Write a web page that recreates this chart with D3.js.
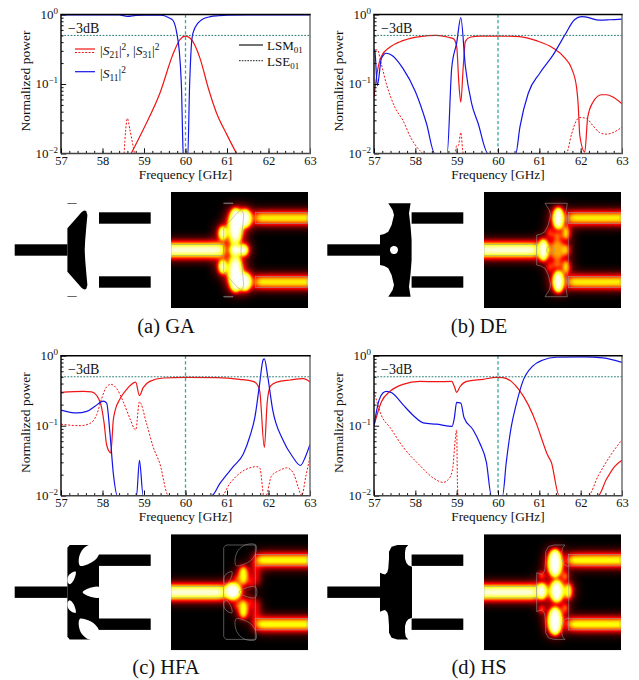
<!DOCTYPE html>
<html>
<head>
<meta charset="utf-8">
<script src="https://cdnjs.cloudflare.com/ajax/libs/d3/7.8.5/d3.min.js"></script>
<style>
    html, body { margin: 0; padding: 0; background: #fff; }
    svg { display: block; }
    text { font-family: "Liberation Serif", serif; fill: #111; }
</style>
</head>
<body>
<div id="chart"></div>
<script>
// [frequency GHz, normalized power]
const gaS21 = [[58.69,0.01],[58.98,0.022],[59.38,0.073],[59.71,0.28],[59.87,0.44],[60,0.49],[60.15,0.43],[60.35,0.234],[60.55,0.087],[60.75,0.038],[60.99,0.019],[61.23,0.01]];
const gaS31 = [[58.52,0.01],[58.6,0.032],[58.66,0.022],[58.77,0.01]];
const gaS11 = [[57,0.99],[58.4,0.99],[58.6,0.94],[58.8,0.97],[59,0.98],[59.4,0.98],[59.6,0.9],[59.7,0.82],[59.79,0.54],[59.85,0.3],[59.9,0.1],[59.95,0.009],[60.05,0.008],[60.1,0.1],[60.14,0.35],[60.18,0.54],[60.3,0.75],[60.4,0.85],[60.6,0.93],[60.8,0.96],[61,0.98],[61.5,0.99],[63,0.99]];

const deS21 = [[57,0.065],[57.08,0.15],[57.18,0.25],[57.39,0.34],[57.7,0.42],[58.11,0.48],[58.51,0.5],[58.8,0.47],[58.92,0.45],[59,0.35],[59.05,0.11],[59.1,0.055],[59.16,0.18],[59.21,0.41],[59.32,0.47],[59.56,0.49],[60,0.49],[60.52,0.48],[60.93,0.42],[61.33,0.33],[61.62,0.235],[61.78,0.168],[61.9,0.09],[61.94,0.05],[61.98,0.018],[62.1,0.0105],[62.17,0.033],[62.3,0.055],[62.5,0.07],[62.62,0.07],[62.78,0.065],[63,0.052]];
const deS31 = [[57,0.28],[57.02,0.31],[57.08,0.31],[57.18,0.19],[57.3,0.1],[57.5,0.047],[57.7,0.03],[57.9,0.0165],[58.11,0.011],[58.19,0.01],[58.96,0.01],[59,0.013],[59.04,0.013],[59.1,0.02],[59.16,0.01],[61.65,0.01],[61.78,0.019],[61.9,0.03],[61.98,0.033],[62.14,0.032],[62.3,0.025],[62.46,0.02],[62.62,0.019],[62.78,0.02],[63,0.024]];
const deS11 = [[57,0.31],[57.02,0.3],[57.08,0.095],[57.18,0.234],[57.3,0.277],[57.43,0.26],[57.7,0.168],[58,0.078],[58.27,0.027],[58.47,0.01],[58.77,0.01],[58.88,0.17],[59,0.39],[59.1,0.9],[59.21,0.18],[59.36,0.053],[59.52,0.027],[59.76,0.01],[60.43,0.01],[60.53,0.024],[60.73,0.073],[61.01,0.143],[61.33,0.26],[61.62,0.51],[61.85,0.84],[62.02,0.935],[62.14,0.915],[62.46,0.83],[62.7,0.84],[63,0.86]];

const hfaS21 = [[57,0.3],[57.54,0.31],[57.74,0.305],[57.86,0.27],[57.98,0.18],[58.04,0.108],[58.1,0.053],[58.2,0.041],[58.26,0.12],[58.3,0.162],[58.42,0.24],[58.58,0.33],[58.8,0.42],[58.89,0.27],[58.98,0.35],[59.14,0.43],[59.47,0.48],[60,0.49],[60.75,0.485],[61.3,0.46],[61.63,0.43],[61.75,0.37],[61.79,0.31],[61.9,0.049],[61.97,0.22],[62.05,0.37],[62.2,0.42],[62.52,0.45],[62.84,0.47],[63,0.42]];
const hfaS31 = [[57,0.105],[57.46,0.1],[57.7,0.108],[57.86,0.144],[57.98,0.245],[58.1,0.36],[58.2,0.39],[58.34,0.34],[58.5,0.22],[58.66,0.127],[58.8,0.087],[58.89,0.22],[59.06,0.108],[59.22,0.05],[59.38,0.029],[59.59,0.01],[60.87,0.01],[61.07,0.015],[61.31,0.021],[61.55,0.025],[61.71,0.026],[61.79,0.025],[61.9,0.009],[61.95,0.01],[62.07,0.019],[62.27,0.023],[62.44,0.025],[62.6,0.021],[62.72,0.013],[62.8,0.01],[62.9,0.019],[63,0.036]];
const hfaS11 = [[57,0.167],[57.38,0.152],[57.62,0.16],[57.82,0.19],[58.02,0.225],[58.1,0.21],[58.18,0.078],[58.26,0.021],[58.36,0.01],[58.82,0.01],[58.89,0.032],[58.98,0.01],[60.63,0.01],[60.83,0.015],[61.15,0.026],[61.39,0.039],[61.55,0.07],[61.67,0.13],[61.78,0.37],[61.87,0.87],[61.9,0.9],[61.98,0.51],[62.1,0.17],[62.34,0.064],[62.58,0.036],[62.77,0.027],[62.89,0.036],[63,0.054]];

const hsS21 = [[57,0.1],[57.18,0.22],[57.39,0.31],[57.7,0.39],[58.11,0.43],[58.51,0.425],[58.88,0.43],[58.94,0.37],[59,0.3],[59.08,0.36],[59.24,0.43],[59.64,0.46],[59.96,0.49],[60.12,0.485],[60.32,0.43],[60.52,0.32],[60.73,0.2],[60.93,0.107],[61.09,0.057],[61.2,0.038],[61.29,0.03],[61.48,0.01],[62.42,0.01],[62.62,0.017],[62.82,0.026],[63,0.032]];
const hsS31 = [[57,0.31],[57.18,0.14],[57.39,0.094],[57.7,0.05],[58.11,0.027],[58.43,0.018],[58.67,0.0155],[58.83,0.018],[58.91,0.026],[58.95,0.05],[59,0.087],[59.02,0.014],[59.04,0.01],[62.18,0.01],[62.42,0.019],[62.7,0.036],[63,0.063]];
const hsS11 = [[57,0.1],[57.06,0.16],[57.12,0.23],[57.22,0.295],[57.3,0.31],[57.43,0.295],[57.7,0.2],[57.95,0.14],[58.19,0.11],[58.51,0.105],[58.89,0.098],[58.94,0.125],[59,0.215],[59.1,0.21],[59.18,0.13],[59.4,0.087],[59.56,0.056],[59.72,0.03],[59.84,0.01],[60.11,0.01],[60.2,0.03],[60.32,0.096],[60.44,0.2],[60.6,0.43],[60.84,0.71],[61.09,0.87],[61.41,0.95],[62.05,0.96],[62.54,0.93],[63,0.8]];

// tick values and labels
const freqTicks = [57, 58, 59, 60, 61, 62, 63];
const freqMinor = d3.range(57, 63.01, 0.2);
const powerTicks = [1, 0.1, 0.01];
const powerExponents = ['0', '\u22121', '\u22122'];
const powerMinor = [2,3,4,5,6,7,8,9].flatMap(d => [d * 0.01, d * 0.1]);

// device outlines, upper half [u, v] in the field picture's own units, mirrored about v = 0
const gaBody = [[52.7,0],[52.7,-21.7],[60,-30],[67,-38],[69.5,-39.5],[71.5,-39],[72.7,-35],[71.5,-22],[70.5,-10],[70,0]];
const deBody = [[52.7,0],[52.7,-15],[57,-16],[61,-18.3],[64.3,-25],[66.7,-35],[65.3,-40],[61,-46.7],[83.3,-46.7],[81.7,-36.7],[83.3,-23.3],[84.3,-10],[84.3,0]];
const hfaBody = [[52.7,0],[52.7,-44.5],[55,-47.2],[84.3,-47.2],[84.3,0]];
const hsBody = [[52.7,0],[52.7,-19.5],[55,-18.5],[57.7,-17.8],[60,-20],[61,-23.8],[61.7,-33.8],[61.7,-40.5],[64.3,-45.5],[70,-47.2],[81,-47.2],[78.5,-44.5],[77.7,-40],[77.7,-33.8],[79,-29.5],[81,-27],[84.7,-25.5],[84.7,0]];

// stray slivers of metal in the GA layout
const gaSlivers = [[[52.7,-47],[62,-47],[62,-46.4],[52.7,-46.4]]];

// white cut-outs, upper half (mirrored) or on the axis
const deHoles = [[[66.7,-4],[69.5,-2.9],[70.7,0],[69.5,2.9],[66.7,4],[63.9,2.9],[62.7,0],[63.9,-2.9]]];
const hfaHoles = [
    [[64,-32.2],[67,-41.5],[74.7,-47.4],[84.6,-47.4],[84.6,-38.8],[80.3,-32.2],[72.7,-27.8],[65.3,-26.5]],
    [[61,-20.5],[59,-12],[55,-8],[53,-10],[53.5,-16],[57,-19.5]],
    [[68,0],[73.7,-3.8],[84.6,-5.2],[84.6,5.2],[73.7,3.8]]
];

// field maps: [u, v, rx, ry, level]
const gaField = [[74,-31.7,6.2,9,1],[64.5,-24,6.7,18,1],[51.7,-16.7,3.8,7,1],[64,0,5.2,5.5,1],[72.5,0,4.7,5.5,1],[62,-9,3.5,2.5,0.8]];
const deField = [[59.3,0,4.7,11,1],[74.3,-31.7,5.2,11,1],[73.3,0,7,10,0.55],[82,-17,3.2,7,0.7],[82,0,3,6,0.65],[66,-17,3,5,0.45],[73.3,-14,4,4,0.5]];
const hfaField = [[61.7,-1,8.2,8.2,1.1],[72.3,-17,4.5,9.5,0.72],[67,-13,3,3.5,0.5],[80,-10,2.5,4.5,0.4]];
const hsField = [[57.7,-1,5,8,1],[71,-29,6.7,14,1],[72.7,-1,6.4,11,1],[84.3,-1,3.4,8,0.8],[57.7,-17,2.4,3.5,0.6],[81,-16,2.4,4.5,0.6]];

const legendLabels = [['S', '21', 'S', '31'], ['S', '11']];

class PowerPlot {

    constructor(opts) {
        // load in arguments from config object
        this.svg = opts.svg;
        this.left = opts.left;
        this.right = opts.right;
        this.top = opts.top;
        this.bottom = opts.bottom;
        this.s21 = opts.s21;
        this.s31 = opts.s31;
        this.s11 = opts.s11;
        this.id = opts.id;
        this.create();
    }

    create() {
        this.x = d3.scaleLinear().domain([57, 63]).range([this.left, this.right]);
        this.y = d3.scaleLog().domain([0.01, 1]).range([this.bottom, this.top]);
        const x = this.x, y = this.y;

        this.svg.append('clipPath').attr('id', this.id)
            .append('rect')
            .attr('x', this.left).attr('y', this.top)
            .attr('width', this.right - this.left).attr('height', this.bottom - this.top);

        const line = d3.line().x(d => x(d[0])).y(d => y(d[1])).curve(d3.curveMonotoneX);
        const curves = this.svg.append('g').attr('clip-path', `url(#${this.id})`).attr('fill', 'none');
        curves.append('path').attr('d', line(this.s31)).attr('stroke', '#f01414').attr('stroke-width', 1).attr('stroke-dasharray', '2,1.6');
        curves.append('path').attr('d', line(this.s21)).attr('stroke', '#f01414').attr('stroke-width', 1.2);
        curves.append('path').attr('d', line(this.s11)).attr('stroke', '#1414e6').attr('stroke-width', 1.2);

        // reference lines sit over the curves
        curves.append('line').attr('x1', this.left).attr('x2', this.right)
            .attr('y1', y(0.5)).attr('y2', y(0.5))
            .attr('stroke', '#17706a').attr('stroke-width', 0.9).attr('stroke-dasharray', '1.8,1.4');
        curves.append('line').attr('x1', x(60)).attr('x2', x(60))
            .attr('y1', this.top).attr('y2', this.bottom)
            .attr('stroke', '#35a79f').attr('stroke-width', 1.3).attr('stroke-dasharray', '3.2,2.4');

        this.drawAxes();

        this.svg.append('text').attr('x', this.left + 7).attr('y', this.top + 18)
            .attr('font-size', 14).text('\u22123dB');
    }

    drawAxes() {
        const x = this.x, y = this.y;
        const bottomG = this.svg.append('g').attr('transform', `translate(0,${this.bottom})`);
        const leftG = this.svg.append('g').attr('transform', `translate(${this.left},0)`);

        bottomG.append('g').call(d3.axisBottom(x).tickValues(freqMinor).tickSize(-2.6).tickFormat('')).selectAll('text').remove();
        bottomG.append('g').call(d3.axisBottom(x).tickValues(freqTicks).tickSize(-5.2).tickPadding(2.2).tickFormat(d3.format('d')));
        leftG.append('g').call(d3.axisLeft(y).tickValues(powerMinor).tickSize(-2.6).tickFormat('')).selectAll('text').remove();
        leftG.append('g').call(d3.axisLeft(y).tickValues(powerTicks).tickSize(-5.2).tickFormat('')).selectAll('text').remove();

        this.svg.selectAll('.domain').remove();
        bottomG.selectAll('.tick line').attr('stroke', '#111');
        leftG.selectAll('.tick line').attr('stroke', '#111');
        bottomG.selectAll('.tick text').attr('font-size', 12.5).attr('font-family', '"Liberation Serif", serif').attr('fill', '#111');

        const powerLabels = this.svg.append('g').attr('font-size', 13);
        powerTicks.forEach((d, i) => {
            const t = powerLabels.append('text').attr('x', this.left - 3).attr('y', y(d) + 4).attr('text-anchor', 'end');
            t.append('tspan').text('10');
            t.append('tspan').attr('font-size', 9).attr('dy', -5).text(powerExponents[i]);
        });

        // frame: left and top print darker than the other two
        const frame = this.svg.append('g').attr('stroke-width', 1.4);
        frame.append('line').attr('x1', this.left).attr('x2', this.right + 0.7).attr('y1', this.bottom).attr('y2', this.bottom).attr('stroke', '#444');
        frame.append('line').attr('x1', this.right).attr('x2', this.right).attr('y1', this.top).attr('y2', this.bottom).attr('stroke', '#666');
        frame.append('line').attr('x1', this.left - 0.7).attr('x2', this.right + 0.7).attr('y1', this.top).attr('y2', this.top).attr('stroke', '#000');
        frame.append('line').attr('x1', this.left).attr('x2', this.left).attr('y1', this.top).attr('y2', this.bottom).attr('stroke', '#000');

        this.svg.append('text').attr('x', (this.left + this.right) / 2).attr('y', this.bottom + 25.7)
            .attr('text-anchor', 'middle').attr('font-size', 13.3).text('Frequency [GHz]');
        this.svg.append('text')
            .attr('transform', `translate(${this.left - 31},${(this.top + this.bottom) / 2 - 3}) rotate(-90)`)
            .attr('text-anchor', 'middle').attr('font-size', 13.5).text('Normalized power');
    }
}

class DeviceFigure {

    constructor(opts) {
        this.svg = opts.svg;
        this.left = opts.left;
        this.heatLeft = opts.heatLeft;
        this.center = opts.center;
        this.body = opts.body;
        this.holes = opts.holes;
        this.slivers = opts.slivers || [];
        this.field = opts.field;
        this.portV = opts.portV;
        this.portLevel = opts.portLevel;
        this.extraBands = opts.extraBands || [];
        this.id = opts.id;
        this.create();
    }

    create() {
        this.v = d3.scaleLinear().domain([-58, 58]).range([this.center - 58, this.center + 58]);
        const silhouette = this.svg.append('g');
        this.drawShapes(silhouette, d3.scaleLinear().domain([0, 137]).range([this.left, this.left + 137]), '#000', '#fff', 'none');
        this.drawField();
    }

    portBands() {
        return [
            {u0: 0, u1: 52.7, v0: -5.7, v1: 5.7},
            {u0: 84.3, u1: 136, v0: -this.portV - 5.7, v1: -this.portV + 5.7},
            {u0: 84.3, u1: 136, v0: this.portV - 5.7, v1: this.portV + 5.7}
        ];
    }

    mirrored(points) {
        // upper half followed by its reflection
        return points.concat(points.slice().reverse().map(d => [d[0], -d[1]]));
    }

    drawShapes(g, u, fill, holeFill, stroke) {
        const v = this.v;
        const outline = d3.line().x(d => u(d[0])).y(d => v(d[1]));
        const smooth = d3.line().x(d => u(d[0])).y(d => v(d[1])).curve(d3.curveCatmullRomClosed);
        g.attr('stroke', stroke).attr('stroke-width', 0.55);

        this.portBands().forEach(b => {
            g.append('rect').attr('x', u(b.u0)).attr('width', u(b.u1) - u(b.u0))
                .attr('y', v(b.v0)).attr('height', v(b.v1) - v(b.v0))
                .attr('fill', fill);
        });
        g.append('path').attr('d', outline(this.mirrored(this.body)) + 'Z').attr('fill', fill);
        this.slivers.forEach(s => {
            [s, s.map(d => [d[0], -d[1]])].forEach(c => {
                g.append('path').attr('d', outline(c) + 'Z').attr('fill', fill);
            });
        });
        this.holes.forEach(h => {
            const onAxis = h.some(d => d[1] > 0);
            const copies = onAxis ? [h] : [h, h.map(d => [d[0], -d[1]])];
            copies.forEach(c => {
                g.append('path').attr('d', smooth(c)).attr('fill', holeFill);
            });
        });
    }

    drawField() {
        const u = d3.scaleLinear().domain([0, 137]).range([this.heatLeft, this.heatLeft + 137]);
        const v = this.v;
        const grey = l => { const c = Math.min(255, l * 255); return d3.rgb(c, c, c).formatHex(); };

        this.svg.append('clipPath').attr('id', this.id).append('rect')
            .attr('x', u(0)).attr('y', v(-58)).attr('width', 137).attr('height', 116);

        const root = this.svg.append('g').attr('clip-path', `url(#${this.id})`);
        const hot = root.append('g').attr('filter', 'url(#hot)');
        hot.append('rect').attr('x', u(0)).attr('y', v(-58)).attr('width', 137).attr('height', 116).attr('fill', '#000');

        const bands = [
            {u0: -20, u1: 52.7, v0: -5.4, v1: 5.4, level: 1},
            {u0: 84.3, u1: 160, v0: -this.portV - 4.5, v1: -this.portV + 4.5, level: this.portLevel},
            {u0: 84.3, u1: 160, v0: this.portV - 4.5, v1: this.portV + 4.5, level: this.portLevel}
        ].concat(this.extraBands);

        const drawBands = (g, scale) => bands.forEach(b => {
            g.append('rect').attr('x', u(b.u0)).attr('width', u(b.u1) - u(b.u0))
                .attr('y', v(b.v0)).attr('height', v(b.v1) - v(b.v0)).attr('fill', grey(b.level * scale));
        });
        const drawBlobs = (g, scale) => this.field.forEach(d => {
            const signs = Math.abs(d[1]) < 1.5 ? [1] : [1, -1];
            signs.forEach(s => {
                g.append('ellipse').attr('cx', u(d[0])).attr('cy', v(s * d[1]))
                    .attr('rx', d[2]).attr('ry', d[3]).attr('fill', grey(d[4] * scale));
            });
        });

        // same shapes twice: wide and faint for the glow, tight for the core
        const glow = hot.append('g').attr('filter', 'url(#glow)');
        drawBands(glow, 0.72);
        drawBlobs(glow, 0.72);
        drawBands(hot.append('g').attr('filter', 'url(#bandCore)'), 1);
        drawBlobs(hot.append('g').attr('filter', 'url(#blobCore)'), 1);

        this.drawShapes(root.append('g'), u, 'none', 'none', '#9a9a9a');
    }
}

function addFilters(svg) {
    const defs = svg.append('defs');
    const blur = (id, sd) => defs.append('filter').attr('id', id)
        .attr('filterUnits', 'userSpaceOnUse')
        .attr('x', 0).attr('y', 0).attr('width', 639).attr('height', 680)
        .attr('color-interpolation-filters', 'sRGB')
        .append('feGaussianBlur').attr('stdDeviation', sd);
    blur('bandCore', 3.2);
    blur('blobCore', 2.1);
    blur('glow', 6.5);

    // grey level to the "hot" colour map
    const transfer = defs.append('filter').attr('id', 'hot')
        .attr('filterUnits', 'userSpaceOnUse')
        .attr('x', 0).attr('y', 0).attr('width', 639).attr('height', 680)
        .attr('color-interpolation-filters', 'sRGB')
        .append('feComponentTransfer');
    transfer.append('feFuncR').attr('type', 'table').attr('tableValues', '0 1 1 1');
    transfer.append('feFuncG').attr('type', 'table').attr('tableValues', '0 0 1 1');
    transfer.append('feFuncB').attr('type', 'table').attr('tableValues', '0 0 0 1');
}

function addScriptText(g, x, y, parts, size) {
    // |S_ab|^2 built out of tspans, dy is relative so keep track of the baseline
    const t = g.append('text').attr('x', x).attr('y', y).attr('font-size', size);
    let shift = 0;
    const piece = (str, level, italic, small) => {
        const s = t.append('tspan').attr('dy', level - shift).text(str);
        if (italic) s.attr('font-style', 'italic');
        if (small) s.attr('font-size', size * 0.7);
        shift = level;
    };
    for (let i = 0; i < parts.length; i += 2) {
        if (i > 0) piece(', ', 0);
        piece('|', 0);
        piece(parts[i], 0, true);
        piece(parts[i + 1], 3, false, true);
        piece('|', 0);
        piece('2', -5, false, true);
    }
}

function addLegend(svg) {
    const g = svg.append('g');
    g.append('line').attr('x1', 75).attr('x2', 95).attr('y1', 49).attr('y2', 49).attr('stroke', '#f01414').attr('stroke-width', 1.2);
    g.append('line').attr('x1', 75).attr('x2', 95).attr('y1', 52.5).attr('y2', 52.5).attr('stroke', '#f01414').attr('stroke-dasharray', '2,1.4');
    addScriptText(g, 100, 55, legendLabels[0], 13.5);
    g.append('line').attr('x1', 75).attr('x2', 95).attr('y1', 71.7).attr('y2', 71.7).attr('stroke', '#1414e6').attr('stroke-width', 1.2);
    addScriptText(g, 100, 78, legendLabels[1], 13.5);

    g.append('line').attr('x1', 239).attr('x2', 263).attr('y1', 45).attr('y2', 45).attr('stroke', '#000').attr('stroke-width', 1.1);
    g.append('line').attr('x1', 239).attr('x2', 263).attr('y1', 60.7).attr('y2', 60.7).attr('stroke', '#222').attr('stroke-dasharray', '1.6,1.2');
    [['LSM', 50], ['LSE', 66]].forEach(d => {
        const t = g.append('text').attr('x', 267).attr('y', d[1]).attr('font-size', 13);
        t.append('tspan').text(d[0]);
        t.append('tspan').attr('font-size', 9).attr('dy', 3).text('01');
    });
}

const svg = d3.select('#chart').append('svg').attr('width', 639).attr('height', 680);
addFilters(svg);

new PowerPlot({svg: svg, id: 'clipA', left: 61, right: 310, top: 14.5, bottom: 153.5, s21: gaS21, s31: gaS31, s11: gaS11});
new PowerPlot({svg: svg, id: 'clipB', left: 374, right: 622, top: 14.5, bottom: 153.5, s21: deS21, s31: deS31, s11: deS11});
new PowerPlot({svg: svg, id: 'clipC', left: 61, right: 310, top: 355.7, bottom: 495.7, s21: hfaS21, s31: hfaS31, s11: hfaS11});
new PowerPlot({svg: svg, id: 'clipD', left: 374, right: 622, top: 355.7, bottom: 495.7, s21: hsS21, s31: hsS31, s11: hsS11});
addLegend(svg);

new DeviceFigure({svg: svg, id: 'fieldA', left: 14.7, heatLeft: 171, center: 250, body: gaBody, holes: [], slivers: gaSlivers, field: gaField, portV: 32, portLevel: 0.72});
new DeviceFigure({svg: svg, id: 'fieldB', left: 327.3, heatLeft: 484, center: 250, body: deBody, holes: deHoles, field: deField, portV: 32, portLevel: 0.72});
new DeviceFigure({svg: svg, id: 'fieldC', left: 14.7, heatLeft: 171, center: 592.2, body: hfaBody, holes: hfaHoles, field: hfaField, portV: 32, portLevel: 0.76,
    extraBands: [{u0: 83, u1: 87, v0: -33, v1: -8, level: 0.5}, {u0: 83, u1: 87, v0: 8, v1: 33, level: 0.5}]});
new DeviceFigure({svg: svg, id: 'fieldD', left: 327.3, heatLeft: 484, center: 592.2, body: hsBody, holes: [], field: hsField, portV: 32, portLevel: 0.76});

// sub-figure captions
const captions = [['(a) GA', 166, 333], ['(b) DE', 479, 333], ['(c) HFA', 166, 674], ['(d) HS', 479, 674]];
svg.selectAll('.caption').data(captions).enter().append('text').classed('caption', true)
    .attr('x', d => d[1]).attr('y', d => d[2]).attr('text-anchor', 'middle').attr('font-size', 20.5).text(d => d[0]);
</script>
</body>
</html>
